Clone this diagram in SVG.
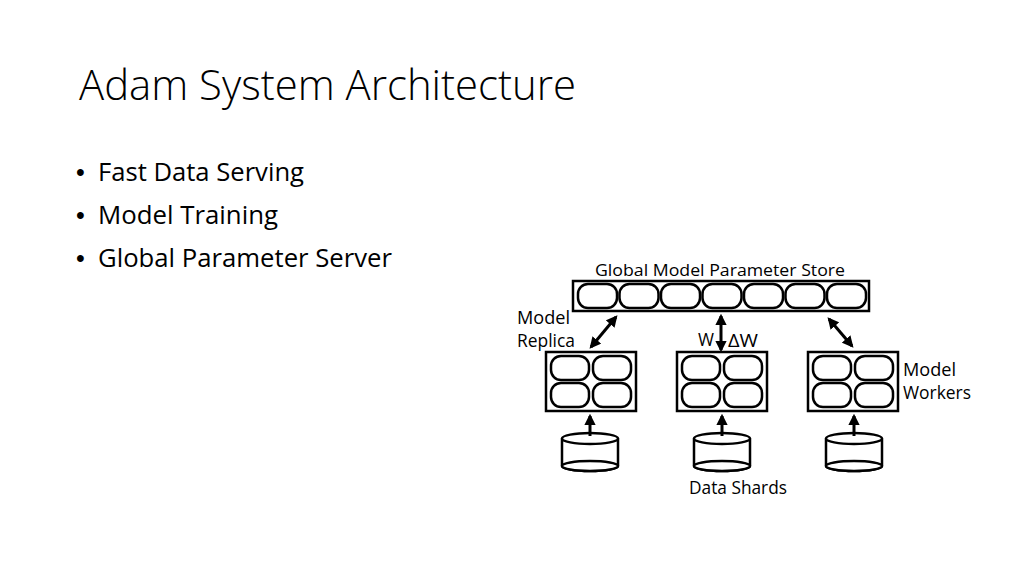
<svg xmlns="http://www.w3.org/2000/svg" width="1024" height="576" viewBox="0 0 1024 576">
<style>
.t{font-family:"Open Sans","Liberation Sans",Arial,sans-serif;fill:#000}
.bul{font-family:"Liberation Sans",Arial,sans-serif;fill:#000}
.title{font-family:"Open Sans","Liberation Sans",Arial,sans-serif;font-weight:300;fill:#000}
.box{fill:#fff;stroke:#000;stroke-width:2.5}
.cell{fill:#fff;stroke:#000;stroke-width:2.5}
.cyl{fill:#fff;stroke:#000;stroke-width:2.5}
.arr{stroke:#000;stroke-width:3;fill:none;marker-end:url(#ah)}
.darr{stroke:#000;stroke-width:3;fill:none;marker-end:url(#ah);marker-start:url(#ah)}
</style>
<defs>
<marker id="ah" viewBox="0 0 10 10" refX="8" refY="5" markerWidth="3.8" markerHeight="3.8" orient="auto-start-reverse" markerUnits="strokeWidth">
<path d="M0,0 L10,5 L0,10 Z" fill="#000"/>
</marker>
</defs>
<rect width="1024" height="576" fill="#fff"/>
<g id="title">
<text class="title" x="79" y="100" font-size="42" textLength="497" lengthAdjust="spacingAndGlyphs">Adam System Architecture</text>
</g>
<g id="bullets" font-size="25">
<text class="bul" x="76" y="181">•</text><text class="t" x="98" y="181" textLength="206" lengthAdjust="spacingAndGlyphs">Fast Data Serving</text>
<text class="bul" x="76" y="224">•</text><text class="t" x="98" y="224" textLength="180" lengthAdjust="spacingAndGlyphs">Model Training</text>
<text class="bul" x="76" y="267">•</text><text class="t" x="98" y="267" textLength="294" lengthAdjust="spacingAndGlyphs">Global Parameter Server</text>
</g>
<g id="store">
<text class="t" x="595" y="276" font-size="17" textLength="250" lengthAdjust="spacingAndGlyphs">Global Model Parameter Store</text>
<rect class="box" x="573" y="281" width="296" height="30"/>
<rect class="cell" x="578" y="284" width="39" height="24" rx="10"/>
<rect class="cell" x="619.5" y="284" width="39" height="24" rx="10"/>
<rect class="cell" x="661" y="284" width="39" height="24" rx="10"/>
<rect class="cell" x="702.5" y="284" width="39" height="24" rx="10"/>
<rect class="cell" x="744" y="284" width="39" height="24" rx="10"/>
<rect class="cell" x="785.5" y="284" width="39" height="24" rx="10"/>
<rect class="cell" x="827" y="284" width="39" height="24" rx="10"/>
</g>
<g id="replica1">
<rect class="box" x="546" y="352" width="90" height="59"/>
<rect class="cell" x="551" y="356" width="38" height="24" rx="10"/>
<rect class="cell" x="593" y="356" width="38" height="24" rx="10"/>
<rect class="cell" x="551" y="383" width="38" height="24" rx="10"/>
<rect class="cell" x="593" y="383" width="38" height="24" rx="10"/>
</g>
<g id="replica2">
<rect class="box" x="677" y="352" width="90" height="59"/>
<rect class="cell" x="682" y="356" width="38" height="24" rx="10"/>
<rect class="cell" x="724" y="356" width="38" height="24" rx="10"/>
<rect class="cell" x="682" y="383" width="38" height="24" rx="10"/>
<rect class="cell" x="724" y="383" width="38" height="24" rx="10"/>
</g>
<g id="replica3">
<rect class="box" x="808" y="352" width="90" height="59"/>
<rect class="cell" x="813" y="356" width="38" height="24" rx="10"/>
<rect class="cell" x="855" y="356" width="38" height="24" rx="10"/>
<rect class="cell" x="813" y="383" width="38" height="24" rx="10"/>
<rect class="cell" x="855" y="383" width="38" height="24" rx="10"/>
</g>
<g id="shard1">
<path class="cyl" d="M562,438.5 L562,466 A28,5 0 0 0 618,466 L618,438.5"/>
<ellipse class="cyl" cx="590" cy="438.5" rx="28" ry="5.5"/>
<ellipse class="cyl" cx="590" cy="466" rx="28" ry="5" fill="none"/>
</g>
<g id="shard2">
<path class="cyl" d="M694,438.5 L694,466 A28,5 0 0 0 750,466 L750,438.5"/>
<ellipse class="cyl" cx="722" cy="438.5" rx="28" ry="5.5"/>
<ellipse class="cyl" cx="722" cy="466" rx="28" ry="5" fill="none"/>
</g>
<g id="shard3">
<path class="cyl" d="M826,438.5 L826,466 A28,5 0 0 0 882,466 L882,438.5"/>
<ellipse class="cyl" cx="854" cy="438.5" rx="28" ry="5.5"/>
<ellipse class="cyl" cx="854" cy="466" rx="28" ry="5" fill="none"/>
</g>
<g id="connectors">
<line class="darr" x1="591" y1="347" x2="616" y2="317"/>
<line class="darr" x1="721" y1="316" x2="721" y2="350"/>
<line class="darr" x1="829" y1="319" x2="852" y2="346"/>
<line class="arr" x1="590" y1="436" x2="590" y2="416"/>
<line class="arr" x1="722" y1="436" x2="722" y2="416"/>
<line class="arr" x1="854" y1="436" x2="854" y2="416"/>
</g>
<g id="labels" class="t" font-size="17.5">
<text x="517" y="324" textLength="53" lengthAdjust="spacingAndGlyphs">Model</text>
<text x="517" y="347" textLength="58" lengthAdjust="spacingAndGlyphs">Replica</text>
<text x="698" y="346" textLength="16" lengthAdjust="spacingAndGlyphs">W</text>
<text x="728" y="347" textLength="30" lengthAdjust="spacingAndGlyphs">ΔW</text>
<text x="903" y="376" textLength="53" lengthAdjust="spacingAndGlyphs">Model</text>
<text x="903" y="399" textLength="68" lengthAdjust="spacingAndGlyphs">Workers</text>
<text x="689" y="494" textLength="98" lengthAdjust="spacingAndGlyphs">Data Shards</text>
</g>
</svg>
